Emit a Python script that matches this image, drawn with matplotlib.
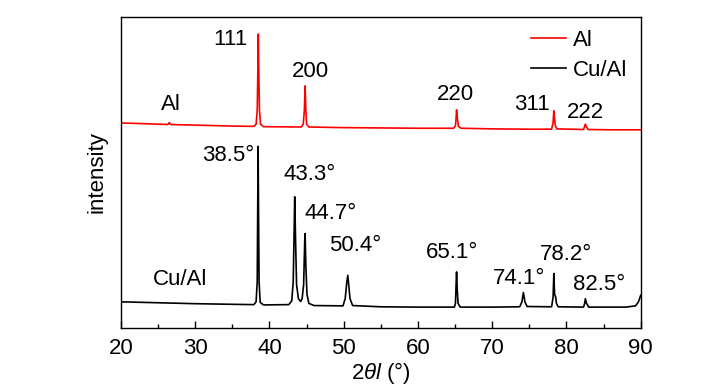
import matplotlib
matplotlib.use("Agg")
from matplotlib import pyplot as plt
from matplotlib.ticker import MultipleLocator

plt.rcParams['font.family'] = ['Liberation Sans', 'DejaVu Sans']
plt.rcParams['mathtext.fontset'] = 'custom'
plt.rcParams['mathtext.it'] = 'Liberation Sans:italic'

# Al pattern (red); y in arbitrary offset units
al_x = [20.0, 24.0, 26.3, 26.5, 26.7, 30.0, 35.0, 37.9, 38.2, 38.35, 38.45, 38.5,
        38.55, 38.65, 38.8, 39.2, 44.3, 44.55, 44.7, 44.8, 44.9, 45.0, 45.3, 50.0,
        55.0, 60.0, 64.8, 65.05, 65.15, 65.2, 65.3, 65.45, 65.8, 70.0, 75.0, 78.0,
        78.2, 78.3, 78.4, 78.5, 78.7, 82.3, 82.45, 82.55, 82.65, 82.9, 86.0, 90.0]
al_y = [65.9, 65.6, 65.4, 66.0, 65.4, 65.2, 64.9, 64.8, 65.5, 70.0, 85.0, 94.4,
        85.0, 70.0, 65.5, 64.7, 64.6, 65.5, 70.0, 77.8, 70.0, 65.5, 64.6, 64.4,
        64.3, 64.2, 64.2, 65.0, 68.0, 70.1, 67.5, 64.8, 64.2, 64.0, 63.9, 63.9,
        66.0, 69.8, 67.0, 65.0, 64.0, 63.8, 64.8, 65.5, 64.8, 63.8, 63.7, 63.7]

# Cu/Al pattern (black)
cu_x = [20.0, 25.0, 30.0, 35.0, 37.9, 38.2, 38.35, 38.42, 38.47, 38.52, 38.6, 38.75,
        39.2, 42.6, 43.0, 43.2, 43.35, 43.4, 43.5, 43.65, 43.9, 44.2, 44.4, 44.6,
        44.75, 44.8, 44.9, 45.05, 45.3, 46.0, 49.9, 50.2, 50.4, 50.55, 50.65, 50.85,
        51.2, 55.0, 60.0, 64.9, 65.05, 65.15, 65.2, 65.3, 65.4, 65.7, 70.0, 73.7,
        74.0, 74.2, 74.4, 74.7, 78.0, 78.2, 78.3, 78.4, 78.55, 78.65, 78.9, 82.3,
        82.45, 82.55, 82.7, 83.0, 88.0, 89.3, 89.7, 90.0]
cu_y = [8.5, 8.2, 7.9, 7.7, 7.6, 8.5, 15.0, 40.0, 58.4, 40.0, 15.0, 8.3,
        7.5, 7.6, 8.8, 15.0, 35.0, 42.2, 30.0, 14.0, 9.5, 8.6, 9.5, 14.0,
        28.0, 30.4, 20.0, 11.0, 8.0, 7.3, 7.2, 9.5, 14.5, 17.0, 14.5, 9.5,
        7.3, 6.9, 6.8, 6.8, 8.0, 15.0, 18.1, 12.0, 8.0, 6.8, 6.8, 6.9,
        8.5, 11.5, 8.5, 7.0, 6.9, 10.0, 17.6, 11.0, 10.0, 8.0, 6.9, 6.8,
        8.0, 9.5, 8.0, 6.8, 6.8, 7.2, 8.5, 10.6]

al_labels = ['111', '200', '220', '311', '222']
al_label_x = [34.8, 45.5, 65.05, 75.3, 82.6]
al_label_y = [92.6, 82.3, 74.9, 71.7, 69.3]

cu_labels = ['38.5°', '43.3°', '44.7°', '50.4°', '65.1°', '74.1°', '78.2°', '82.5°']
cu_label_x = [34.4, 45.4, 48.2, 51.6, 64.6, 73.6, 80.0, 84.4]
cu_label_y = [55.3, 49.2, 36.8, 26.7, 24.3, 16.1, 23.8, 14.1]

FS = 16

fig = plt.figure(figsize=(7.27, 3.9), dpi=100)
ax = fig.add_axes([0.1664, 0.1582, 0.7149, 0.799])

ax.plot(al_x, al_y, color='#ff0000', lw=1.2, label='Al')
ax.plot(cu_x, cu_y, color='black', lw=1.2, label='Cu/Al')

for t, x, y in zip(al_labels, al_label_x, al_label_y):
    ax.text(x, y, t, ha='center', va='center', fontsize=FS)
for t, x, y in zip(cu_labels, cu_label_x, cu_label_y):
    ax.text(x, y, t, ha='center', va='center', fontsize=FS)
ax.text(26.7, 71.7, 'Al', ha='center', va='center', fontsize=FS)
ax.text(28.0, 15.8, 'Cu/Al', ha='center', va='center', fontsize=FS)

ax.set_xlim(20, 90)
ax.set_ylim(0, 100)
ax.xaxis.set_major_locator(MultipleLocator(10))
ax.xaxis.set_minor_locator(MultipleLocator(5))
ax.tick_params(axis='x', which='major', direction='in', length=5, width=1,
               labelsize=FS, pad=7)
ax.tick_params(axis='x', which='minor', direction='in', length=3, width=1)
ax.set_yticks([])
for s in ax.spines.values():
    s.set_linewidth(1.0)

ax.set_xlabel(r'2$\theta l$ (°)', fontsize=FS, labelpad=1)
ax.set_ylabel('intensity', fontsize=FS, labelpad=10)

ax.legend(loc='upper right', frameon=False, fontsize=FS, handlelength=1.6,
          handletextpad=0.3, labelspacing=0.4, borderaxespad=0.2)

fig.savefig('out.png', dpi=100)
